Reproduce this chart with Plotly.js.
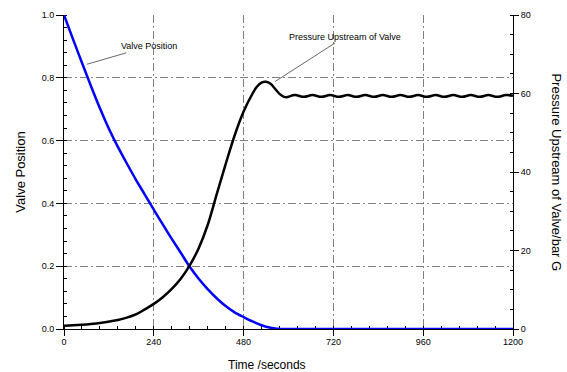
<!DOCTYPE html>
<html><head><meta charset="utf-8">
<script src="https://cdn.plot.ly/plotly-3.0.1.min.js"></script>
<style>html,body{margin:0;padding:0;background:#fff}#chart{width:567px;height:372px}</style>
</head><body><div id="chart"></div>
<script>
// Valve position (left axis, fraction open)
const valveTime = [0,24,48,72,96,120,144,168,192,216,240,264,288,312,336,360,384,408,432,456,480,504,528,552,576,600,720,960,1200];
const valvePos  = [1.0,0.923,0.848,0.774,0.703,0.638,0.58,0.527,0.476,0.428,0.38,0.333,0.287,0.243,0.198,0.16,0.127,0.098,0.073,0.053,0.038,0.024,0.012,0.004,0,0,0,0,0];

// Pressure upstream of valve (right axis, bar G)
const presTime = [0,24,48,72,96,120,144,168,192,216,240,264,288,312,336,360,384,408,432,456,480,504,516,528,540,552,564,576,588,594,
  617,641,664,688,711,735,758,782,805,829,852,876,899,923,946,970,993,1017,1040,1064,1087,1111,1134,1158,1181,1200];
const presVal  = [0.85,0.95,1.1,1.3,1.55,1.9,2.3,2.9,3.7,5.0,6.4,8.1,10.2,12.8,16.2,20.6,26.5,34.3,42.0,49.3,55.4,60.0,61.8,62.8,63.0,62.5,61.2,59.9,59.15,59.05,
  59.6,59.15,59.6,59.15,59.6,59.15,59.6,59.15,59.6,59.15,59.6,59.15,59.6,59.15,59.6,59.15,59.6,59.15,59.6,59.15,59.6,59.15,59.6,59.15,59.6,59.4];

const FONT = 'Liberation Sans, Arial, sans-serif';
const GRID = '#808080';
const GDASH = '8px,3px,2px,3px';

const traces = [
  {x: presTime, y: presVal, yaxis: 'y2', mode: 'lines', name: 'Pressure Upstream of Valve',
   line: {color: '#000000', width: 2.5, shape: 'spline', smoothing: 1}, cliponaxis: false, hoverinfo: 'skip'},
  {x: valveTime, y: valvePos, yaxis: 'y', mode: 'lines', name: 'Valve Position',
   line: {color: '#0000ff', width: 2.5, shape: 'spline', smoothing: 0.8}, cliponaxis: false, hoverinfo: 'skip'}
];

const layout = {
  width: 567, height: 372,
  margin: {l: 64, r: 54, t: 15, b: 43},
  paper_bgcolor: '#ffffff', plot_bgcolor: '#ffffff',
  showlegend: false,
  font: {family: FONT, size: 9, color: '#000'},
  xaxis: {
    range: [0, 1200], tick0: 0, dtick: 240, ticks: 'outside', ticklen: 6, tickcolor: '#000',
    showline: true, linecolor: '#000', linewidth: 1, zeroline: false,
    showgrid: true, gridcolor: GRID, griddash: GDASH, gridwidth: 1,
    minor: {dtick: 48, ticks: 'inside', ticklen: 3, tickcolor: '#000', showgrid: false},
    tickfont: {family: FONT, size: 9, color: '#000'}, layer: 'below traces', ticklabelstandoff: -2
  },
  yaxis: {
    range: [0, 1], tick0: 0, dtick: 0.2, tickformat: '.1f', ticks: 'outside', ticklen: 7, tickcolor: '#000',
    showline: true, linecolor: '#000', linewidth: 1, zeroline: false,
    showgrid: true, gridcolor: GRID, griddash: GDASH, gridwidth: 1,
    minor: {dtick: 0.04, ticks: 'inside', ticklen: 3, tickcolor: '#000', showgrid: false},
    tickfont: {family: FONT, size: 9, color: '#000'}, layer: 'below traces',
    title: {text: 'Valve Position', font: {family: FONT, size: 13, color: '#000'}, standoff: 13}
  },
  yaxis2: {
    overlaying: 'y', side: 'right', range: [0, 80], tick0: 0, dtick: 20, ticks: 'outside', ticklen: 5, tickcolor: '#000',
    showline: true, linecolor: '#000', linewidth: 1, zeroline: false, showgrid: false,
    minor: {dtick: 5, ticks: 'inside', ticklen: 3, tickcolor: '#000', showgrid: false},
    tickfont: {family: FONT, size: 9, color: '#000'}, layer: 'below traces'
  },
  annotations: [
    {xref: 'x', yref: 'y', x: 61, y: 0.843, ax: 62, ay: -18, text: 'Valve Position', showarrow: true,
     arrowhead: 0, arrowwidth: 0.8, arrowcolor: '#404040', font: {family: FONT, size: 9, color: '#000'}},
    {xref: 'x', yref: 'y', x: 564, y: 0.788, ax: 70, ay: -45, text: 'Pressure Upstream of Valve', showarrow: true,
     arrowhead: 0, arrowwidth: 0.8, arrowcolor: '#404040', font: {family: FONT, size: 9, color: '#000'}},
    {xref: 'paper', yref: 'paper', x: 0.452, y: -0.115, xanchor: 'center', yanchor: 'middle', showarrow: false,
     text: 'Time /seconds', font: {family: FONT, size: 12, color: '#000'}},
    {xref: 'paper', yref: 'paper', x: 1.097, y: 0.5, xanchor: 'center', yanchor: 'middle', showarrow: false, textangle: 90,
     text: 'Pressure Upstream of Valve/bar G', font: {family: FONT, size: 13, color: '#000'}}
  ]
};

Plotly.newPlot('chart', traces, layout, {staticPlot: true, displayModeBar: false});
</script></body></html>
